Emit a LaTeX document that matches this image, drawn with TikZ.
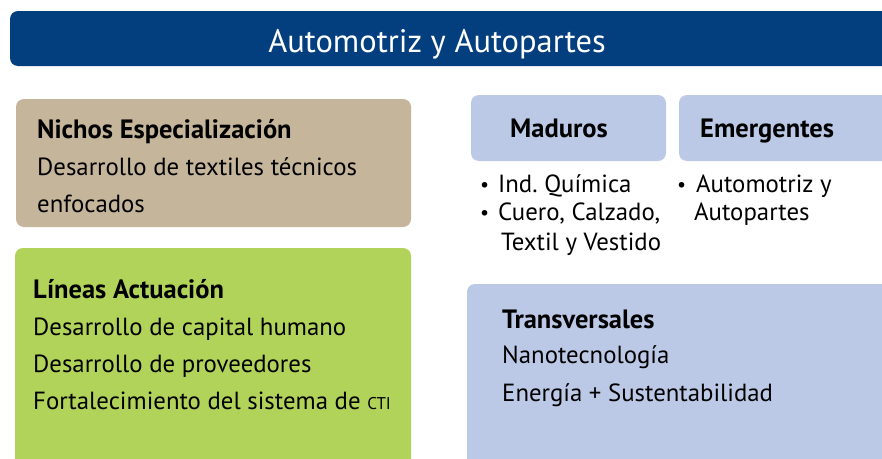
\documentclass[tikz,border=0pt]{standalone}
\usepackage{fontspec}
\setmainfont{PT Sans}
\definecolor{titleblue}{HTML}{033F7E}
\definecolor{tanbox}{HTML}{C4B59B}
\definecolor{greenbox}{HTML}{B1D35A}
\definecolor{bluebox}{HTML}{BCC9E6}
\tikzset{
  panel/.style={rounded corners=8pt},
  txt/.style={anchor=base west, inner sep=0pt, font=\fontsize{24.8}{28}\selectfont},
  hdr/.style={txt, font=\fontsize{26.5}{30}\selectfont\bfseries},
  bul/.style={anchor=base west, inner sep=0pt, font=\fontsize{20}{24}\selectfont},
}
\begin{document}
\begin{tikzpicture}[x=1pt,y=-1pt]
\clip (0,0) rectangle (882,458);
\fill[white] (0,0) rectangle (882,458);
% title
\fill[titleblue, panel] (10,11) rectangle (900,66);
\node[anchor=base, inner sep=0pt, text=white, font=\fontsize{32.5}{36}\selectfont] (title) at (437,52) {Automotriz y Autopartes};
% Nichos
\fill[tanbox, panel] (16,99) rectangle (411,227);
\node[hdr] (n1) at (37,138) {Nichos Especialización};
\node[txt] (n2) at (37,175) {Desarrollo de textiles técnicos};
\node[txt] (n3) at (37,212) {enfocados};
% Lineas
\fill[greenbox, panel] (15,248) rectangle (411,475);
\node[hdr] (l1) at (33,298) {Líneas Actuación};
\node[txt] (l2) at (33,335) {Desarrollo de capital humano};
\node[txt] (l3) at (33,372) {Desarrollo de proveedores};
\node[txt] (l4) at (33,409) {Fortalecimiento del sistema de {\fontsize{17}{20}\selectfont CTI}};
% Maduros / Emergentes
\fill[bluebox, panel] (471,95) rectangle (666,161);
\node[hdr] (m) at (510,137) {Maduros};
\fill[bluebox, panel] (679,95) rectangle (900,161);
\node[hdr] (e) at (700,137) {Emergentes};
\node[bul] (b1) at (480,191) {•};
\node[txt] (m1) at (498,192) {Ind.\ Química};
\node[bul] (b2) at (480,219) {•};
\node[txt] (m2) at (498,220) {Cuero, Calzado,};
\node[txt] (m3) at (501,250) {Textil y Vestido};
\node[bul] (b3) at (677,191) {•};
\node[txt] (e1) at (696,192) {Automotriz y};
\node[txt] (e2) at (694,220) {Autopartes};
% Transversales
\fill[bluebox, panel] (467,284) rectangle (900,475);
\node[hdr] (t1) at (502,328) {Transversales};
\node[txt] (t2) at (502,363) {Nanotecnología};
\node[txt] (t3) at (502,401) {Energía + Sustentabilidad};
\end{tikzpicture}
\end{document}
